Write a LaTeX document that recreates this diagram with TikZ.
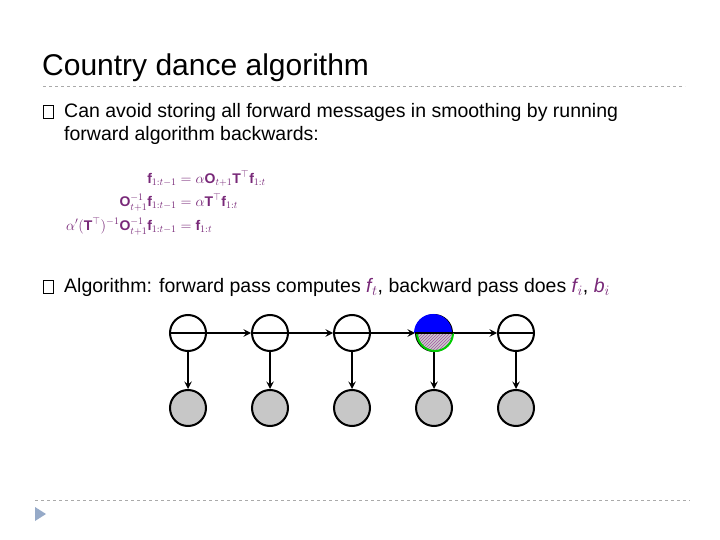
\documentclass[tikz,border=0pt]{standalone}
\usepackage{fontspec}
\setmainfont{Liberation Sans}
\usepackage{amsmath}
\usetikzlibrary{arrows, patterns}
\definecolor{eqpurple}{RGB}{120,40,120}
\definecolor{rulegray}{RGB}{170,170,170}
\definecolor{navblue}{RGB}{150,170,200}
\begin{document}
\begin{tikzpicture}[x = 1pt, y = -1pt, > = stealth % arrow head style
            ]

            \tikzset{hidden/.style = {draw = black, circle, fill = white, line width = 2pt,
                minimum size = 36pt, inner sep = 0pt},
            evid/.style = {hidden, fill = black!22},
            link/.style = {line width = 2.2pt, -{stealth[scale = 0.9]}},
            txt/.style = {anchor = west, inner sep = 0pt, font = \fontsize{19.5}{22}\selectfont}}

            \useasboundingbox (0,0) rectangle (720,540);

            % title and rules
            \node[txt, font = \fontsize{30}{34}\selectfont] (title) at (42,68) {Country dance algorithm};
            \draw[rulegray, line width = 0.8pt, dashed] (43,86) -- (685,86);
            \draw[rulegray, line width = 0.8pt, dashed] (35,500) -- (690,500);
            \fill[navblue] (35,507) -- (46,514) -- (35,521) -- cycle;

            % bullets
            \node[txt] (b1) at (64,112) {Can avoid storing all forward messages in smoothing by running};
            \node[txt] (b1b) at (64,135) {forward algorithm backwards:};
            \node[txt] (b2) at (64,287) {Algorithm: forward pass computes
                \textcolor{eqpurple}{\textit{f\kern0.5pt}$_t$}, backward pass does
                \textcolor{eqpurple}{\textit{f\kern0.5pt}$_i$}, \textcolor{eqpurple}{\textit{b}$_i$}};
            \draw[line width = 0.6pt] (43,105) rectangle (53,118);
            \draw[line width = 0.6pt] (43,280) rectangle (53,293);

            % equations
            \node[anchor = north east, inner sep = 0pt, text = eqpurple,
                font = \fontsize{14}{16}\selectfont] (eqs) at (266,170)
                {\setlength{\jot}{5pt}$\begin{aligned}
                \mathbf{f}_{1:t-1} &= \alpha\mathbf{O}_{t+1}\mathbf{T}^{\top}\mathbf{f}_{1:t}\\
                \mathbf{O}_{t+1}^{-1}\mathbf{f}_{1:t-1} &= \alpha\mathbf{T}^{\top}\mathbf{f}_{1:t}\\
                \alpha'(\mathbf{T}^{\top})^{-1}\mathbf{O}_{t+1}^{-1}\mathbf{f}_{1:t-1} &= \mathbf{f}_{1:t}
                \end{aligned}$};

            % chain
            \foreach \i/\x in {1/188, 2/270, 3/352, 4/434, 5/516} {
                \node[hidden] (h\i) at (\x,333) {};
                \node[evid] (e\i) at (\x,408) {};
            }
            \fill[blue] (h4.west) arc (180:0:18pt) -- cycle;
            \fill[black!20] (h4.east) arc (0:-180:18pt) -- cycle;
            \fill[pattern = north east lines, pattern color = violet!70]
                (h4.east) arc (0:-180:18pt) -- cycle;

            \draw[line width = 2.2pt] (h1.west) -- (h1.east);
            \draw[line width = 2.2pt] (h5.west) -- (h5.east);
            \foreach \i/\j in {1/2, 2/3, 3/4, 4/5} {
                \draw[link] (h\i.east) -- (h\j.west);
                \draw[line width = 2.2pt] (h\j.west) -- (h\j.east);
            }
            \foreach \i in {1,...,5}
                \draw[link] (h\i) -- (e\i);
            \draw[green!80!black, line width = 2pt] (h4.east) arc (0:-180:18pt);
            \draw[blue, line width = 2pt] (h4.west) arc (180:0:18pt);
            \draw[line width = 2.2pt] (h4.west) -- (h4.east);\end{tikzpicture}
\end{document}
